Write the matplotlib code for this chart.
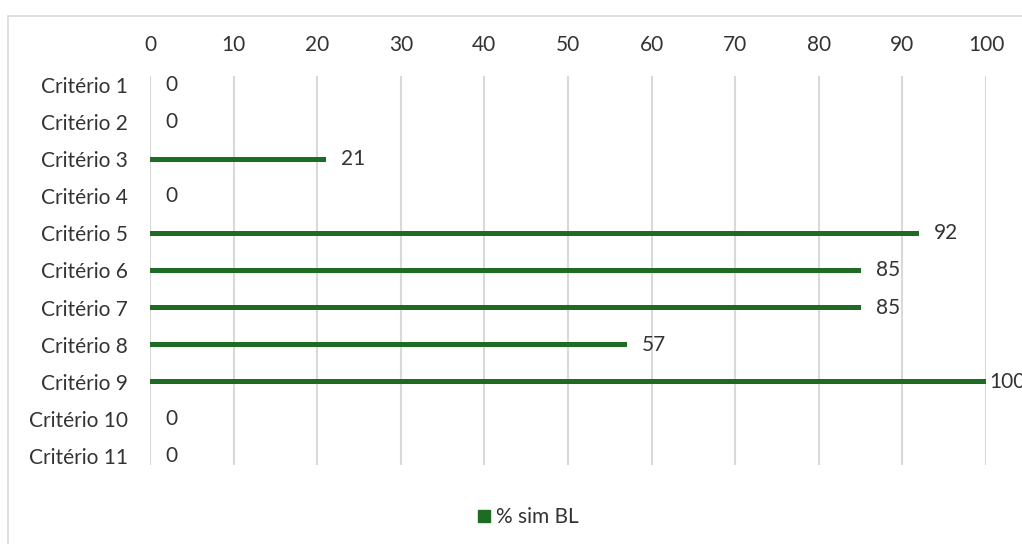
import matplotlib
matplotlib.use("Agg")
import matplotlib.pyplot as plt
from matplotlib.patches import Rectangle
from matplotlib.lines import Line2D

categories = ["Critério 1", "Critério 2", "Critério 3", "Critério 4", "Critério 5",
              "Critério 6", "Critério 7", "Critério 8", "Critério 9", "Critério 10", "Critério 11"]
values = [0, 0, 21, 0, 92, 85, 85, 57, 100, 0, 0]
xticks = list(range(0, 101, 10))
series_name = "% sim BL"

W, H = 1022, 544
fig = plt.figure(figsize=(W / 100, H / 100), dpi=100)
plt.rcParams['font.family'] = ['Lato', 'DejaVu Sans']
green = "#1e6b23"
txt = "#333333"
fs = 15

# axes: x from 150 to 986 px, y from 76 to 465 px
ax = fig.add_axes([150 / W, 1 - 465 / H, (986 - 150) / W, (465 - 76) / H])
ypos = list(range(len(categories)))
ax.barh(ypos, values, height=0.14, color=green, zorder=3)
ax.set_ylim(10.25, -0.25)
ax.set_xlim(0, 100)
ax.set_xticks(xticks)
ax.xaxis.tick_top()
ax.tick_params(axis='x', length=0, pad=15, labelsize=fs, labelcolor=txt)
ax.set_yticks(ypos)
ax.set_yticklabels(categories)
ax.tick_params(axis='y', length=0, pad=16, labelsize=fs, labelcolor=txt)
ax.grid(axis='x', color="#d9d9d9", linewidth=1.5, zorder=0)
for s in ax.spines.values():
    s.set_visible(False)
ax.set_facecolor("none")

vmax = max(values)
for y, v in zip(ypos, values):
    off = 3 if v == vmax else 15
    ax.annotate(str(v), (v, y), xytext=(off, 0), textcoords="offset pixels",
                ha="left", va="center", fontsize=fs, color=txt, annotation_clip=False)

handle = Line2D([], [], marker="s", color=green, linestyle="none", markersize=8)
fig.legend([handle], [series_name], loc="center", bbox_to_anchor=(527 / W, 1 - 517 / H),
           frameon=False, fontsize=fs, labelcolor=txt, handletextpad=0.2, handlelength=0.8)

fig.patches.append(Rectangle((8 / W, -0.1), 1.2, 1 - 16 / H + 0.1, transform=fig.transFigure,
                             fill=False, edgecolor="#d9d9d9", linewidth=1.2))

fig.savefig("out.png", dpi=100)
